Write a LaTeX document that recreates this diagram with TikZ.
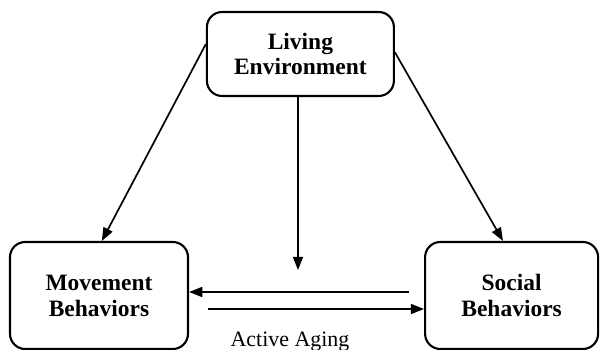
\documentclass[tikz,border=0pt]{standalone}
\usepackage{fontspec}
\setmainfont{Liberation Serif}
\usetikzlibrary{arrows.meta}

\begin{document}
\begin{tikzpicture}[
box/.style={draw, line width=1.5pt, rounded corners=0.38cm, align=center,
  font=\fontsize{16.7}{18.4}\selectfont\bfseries},
arr/.style={-{Triangle[length=0.33cm, width=0.25cm]}, line width=1.2pt}
]
\useasboundingbox (0,0) rectangle (15,8.75);

\node[box, minimum width=4.675cm, minimum height=2.1cm] at (7.51,7.4) (living) {Living\\Environment};
\node[box, minimum width=4.45cm, minimum height=2.675cm] at (2.475,1.3625) (move) {Movement\\Behaviors};
\node[box, minimum width=4.325cm, minimum height=2.675cm] at (12.79,1.3625) (social) {Social\\Behaviors};
\node[anchor=base, font=\fontsize{15.6}{18}\selectfont] at (7.25,0.08) (aging) {Active Aging};

\coordinate (vend) at (7.45,2.0);
\coordinate (upstart) at (10.225,1.45);
\coordinate (lowstart) at (5.2,1.025);

\draw[arr] (living.174) -- (move.87);
\draw[arr] (living.1) -- (social.99);
\draw[arr] (living.south -| vend) -- (vend);
\draw[arr] (upstart) -- (upstart -| move.east);
\draw[arr] (lowstart) -- (lowstart -| social.west);

\end{tikzpicture}
\end{document}
